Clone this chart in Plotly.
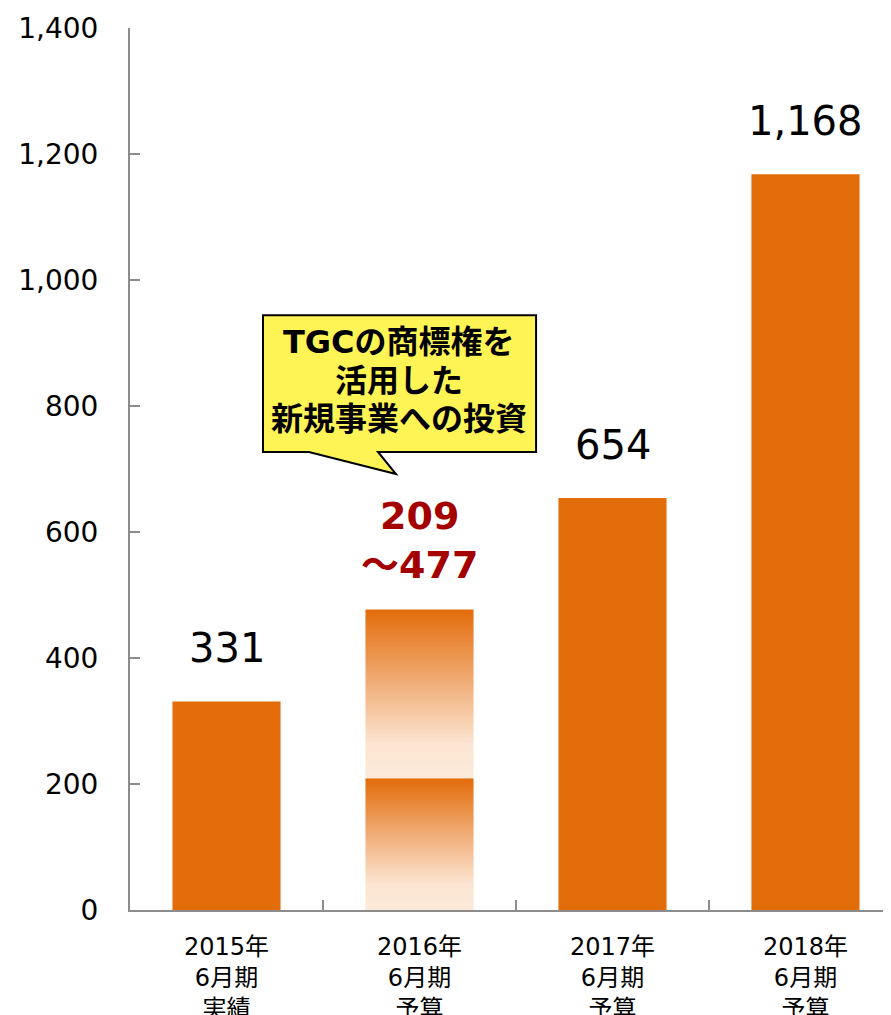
import plotly.graph_objects as go

# ---- data ----
categories = ["2015年<br>6月期<br>実績", "2016年<br>6月期<br>予算", "2017年<br>6月期<br>予算", "2018年<br>6月期<br>予算"]
solid_idx = [0, 2, 3]
solid_values = [331, 654, 1168]
solid_labels = ["331", "654", "1,168"]
range_idx = 1
range_low = 209
range_high = 477
range_label = "209<br>～477"
callout_lines = ["TGCの商標権を", "活用した", "新規事業への投資"]
y_ticks = [0, 200, 400, 600, 800, 1000, 1200, 1400]

ORANGE = "#E36C0A"
PALE = "#FDEADA"
AXIS = "#8C8C8C"
FONT = "DejaVu Sans, Verdana, Noto Sans CJK JP, sans-serif"
BAR_W = 0.56

fig = go.Figure()

fig.add_trace(go.Bar(
    x=solid_idx, y=solid_values, width=BAR_W,
    marker=dict(color=ORANGE, line=dict(width=0)),
    showlegend=False, hoverinfo="skip",
))

# gradient segments for the 2016 range bar
grad_scale = [[0, PALE], [0.2, "#FCE5D2"], [0.55, "#F1B07C"], [1, ORANGE]]
for lo, hi in [(0, range_low), (range_low, range_high)]:
    x0, x1 = range_idx - BAR_W / 2, range_idx + BAR_W / 2
    fig.add_trace(go.Scatter(
        x=[x0, x1, x1, x0, x0], y=[lo, lo, hi, hi, lo],
        mode="lines", line=dict(width=0), fill="toself",
        fillgradient=dict(type="vertical", colorscale=grad_scale, start=lo, stop=hi),
        showlegend=False, hoverinfo="skip",
    ))

# value labels
for i, v, t in zip(solid_idx, solid_values, solid_labels):
    fig.add_annotation(x=i, y=v, text=t, showarrow=False, yanchor="bottom", yshift=28,
                       font=dict(family=FONT, size=40, color="#000000"))
fig.add_annotation(x=range_idx, y=range_high, text="<b>" + range_label + "</b>", showarrow=False,
                   yanchor="bottom", yshift=20,
                   font=dict(family=FONT, size=38, color="#A50000"))

# callout
fig.add_shape(type="path",
              path="M 0.189,944 L 1.604,944 L 1.604,727 L 0.785,727 L 0.878,692 L 0.427,727 L 0.189,727 Z",
              xref="x", yref="y", fillcolor="#FFF455", line=dict(color="#000000", width=2), layer="above")
for line, shift in zip(callout_lines, [39, 0, -38]):
    fig.add_annotation(x=0.896, y=840, text="<b>" + line + "</b>", showarrow=False, yshift=shift,
                       font=dict(family="DejaVu Sans, Noto Sans CJK JP, sans-serif", size=32, color="#000000"))

fig.update_layout(
    width=883, height=1007,
    margin=dict(l=122, r=0, t=20, b=105, autoexpand=False),
    plot_bgcolor="white", paper_bgcolor="white",
    showlegend=False,
    xaxis=dict(
        range=[-0.5, 3.443], tickmode="array", tickvals=[0, 1, 2, 3], ticktext=categories,
        ticks="", showgrid=False, zeroline=False, automargin=False,
        showline=True, linecolor=AXIS, linewidth=2,
        tickfont=dict(family=FONT, size=24, color="#000000"),
        ticklabelstandoff=14,
        minor=dict(tickmode="array", tickvals=[0.5, 1.5, 2.5], ticks="inside", ticklen=10,
                   tickcolor=AXIS, tickwidth=1.5, showgrid=False),
    ),
    yaxis=dict(
        range=[0, 1400], tickmode="array", tickvals=y_ticks,
        tickformat=",", ticks="inside", ticklen=10, tickcolor=AXIS, tickwidth=1.5,
        showgrid=False, zeroline=False, automargin=False,
        showline=True, linecolor=AXIS, linewidth=2,
        tickfont=dict(family=FONT, size=28, color="#000000"),
        ticklabelstandoff=24,
    ),
)

fig.write_html("out.html")
